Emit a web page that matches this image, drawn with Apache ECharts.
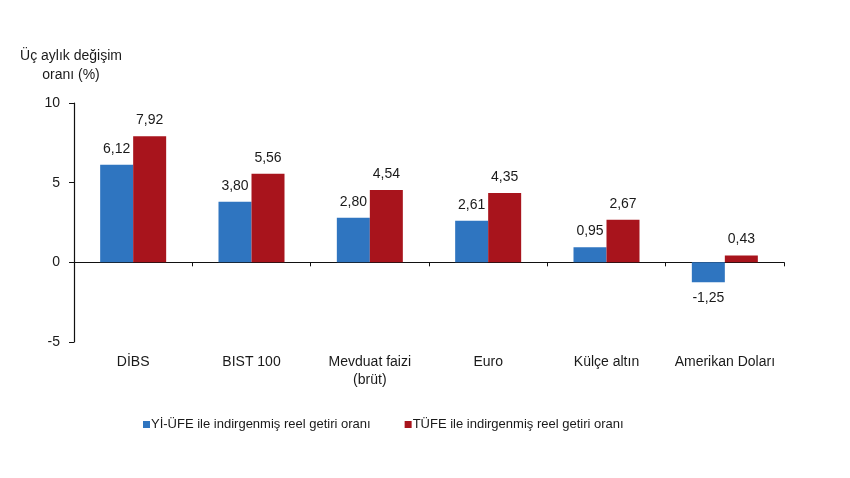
<!DOCTYPE html>
<html>
<head>
<meta charset="utf-8">
<script src="https://cdn.jsdelivr.net/npm/echarts@6/dist/echarts.min.js"></script>
<style>
  html, body { margin: 0; padding: 0; background: #fff; }
  #main { width: 850px; height: 478px; }
</style>
</head>
<body>
<div id="main"></div>
<script>
// kategoriler ve degerler
var categories = ['DİBS', 'BIST 100', 'Mevduat faizi\n(brüt)', 'Euro', 'Külçe altın', 'Amerikan Doları'];
var yiUfe = [6.12, 3.80, 2.80, 2.61, 0.95, -1.25];
var tufe = [7.92, 5.56, 4.54, 4.35, 2.67, 0.43];
var seriesNames = ['Yİ-ÜFE ile indirgenmiş reel getiri oranı', 'TÜFE ile indirgenmiş reel getiri oranı'];

var fontFamily = 'Liberation Sans, Arial, sans-serif';

function labelFmt(p) {
    return Number(p.value).toFixed(2).replace('.', ',');
}

var option = {
    backgroundColor: '#fff',
    animation: false,
    textStyle: { fontFamily: fontFamily },
    title: {
        text: 'Üç aylık değişim\noranı (%)',
        left: 66,
        top: 42,
        textAlign: 'center',
        textStyle: {
            fontFamily: fontFamily,
            fontSize: 14,
            fontWeight: 'normal',
            color: '#1a1a1a',
            lineHeight: 19
        }
    },
    legend: {
        left: 138,
        top: 413,
        itemWidth: 7,
        itemHeight: 7,
        itemGap: 34,
        icon: 'rect',
        textStyle: {
            fontFamily: fontFamily,
            fontSize: 13,
            color: '#1a1a1a',
            padding: [0, 0, 0, -4]
        },
        data: seriesNames
    },
    grid: {
        left: 74,
        right: 66,
        top: 103,
        bottom: 136
    },
    xAxis: [
        {
            type: 'category',
            data: categories,
            position: 'bottom',
            axisLine: { show: false, onZero: false },
            axisTick: { show: false },
            axisLabel: {
                interval: 0,
                margin: 11,
                fontFamily: fontFamily,
                fontSize: 14,
                color: '#1a1a1a',
                lineHeight: 18
            }
        },
        {
            type: 'category',
            data: categories,
            position: 'bottom',
            axisLine: { show: true, onZero: true, lineStyle: { color: '#111', width: 1.2 } },
            axisTick: { show: true, interval: 0, length: 4, lineStyle: { color: '#111' } },
            axisLabel: { show: false }
        }
    ],
    yAxis: {
        type: 'value',
        min: -5,
        max: 10,
        interval: 5,
        axisLine: { show: true, lineStyle: { color: '#111', width: 1.2 } },
        axisTick: { show: true, length: 5, lineStyle: { color: '#111' } },
        splitLine: { show: false },
        axisLabel: {
            margin: 14,
            fontFamily: fontFamily,
            fontSize: 14,
            color: '#1a1a1a'
        }
    },
    series: [
        {
            name: seriesNames[0],
            type: 'bar',
            xAxisIndex: 0,
            // negatif deger icin etiketi altta goster
            data: yiUfe.map(function (v) {
                return { value: v, label: { position: v < 0 ? 'bottom' : 'top' } };
            }),
            barWidth: 33,
            barGap: '0%',
            itemStyle: { color: '#2F75C0' },
            label: {
                show: true,
                formatter: labelFmt,
                fontFamily: fontFamily,
                fontSize: 14,
                color: '#1a1a1a',
                distance: 9
            }
        },
        {
            name: seriesNames[1],
            type: 'bar',
            xAxisIndex: 0,
            data: tufe,
            barWidth: 33,
            barGap: '0%',
            itemStyle: { color: '#A8141C' },
            label: {
                show: true,
                position: 'top',
                formatter: labelFmt,
                fontFamily: fontFamily,
                fontSize: 14,
                color: '#1a1a1a',
                distance: 9
            }
        }
    ]
};

var myChart = echarts.init(document.getElementById('main'));
myChart.setOption(option);
</script>
</body>
</html>
